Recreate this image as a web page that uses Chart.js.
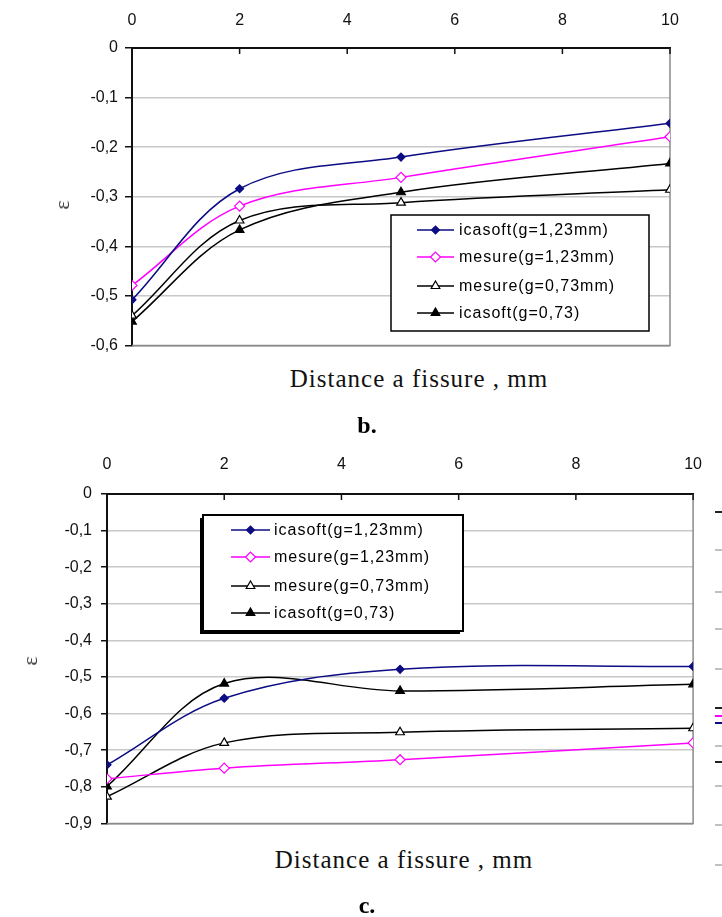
<!DOCTYPE html>
<html>
<head>
<meta charset="utf-8">
<script src="https://cdn.jsdelivr.net/npm/chart.js@4.4.1/dist/chart.umd.min.js"></script>
<style>
  body { margin: 0; background: #fff; width: 722px; height: 917px; position: relative; overflow: hidden; }
  .wrap { position: absolute; left: 0; }
  .xtitle { position: absolute; transform: translate(-50%, -50%); white-space: nowrap;
            font-family: "Liberation Serif", "Times New Roman", serif; font-size: 25px; letter-spacing: 1px; color: #111; }
  .fig { position: absolute; transform: translate(-50%, -50%);
         font-family: "Liberation Serif", "Times New Roman", serif; font-weight: bold; font-size: 24px; color: #000; }
  .ytitle { position: absolute; transform: translate(-50%, -50%) rotate(-90deg);
            font-family: "Liberation Serif", serif; font-size: 22px; color: #333; }
  .stub { position: absolute; left: 715px; width: 7px; height: 2px; background: #c0c0c0; }
</style>
</head>
<body>
<div class="wrap" style="top:0"><canvas id="chartB" width="722" height="362"></canvas></div>
<div class="wrap" style="top:420px"><canvas id="chartC" width="722" height="422"></canvas></div>

<div class="ytitle" style="left:62px; top:205px">ε</div>
<div class="xtitle" style="left:419px; top:379px">Distance a fissure , mm</div>
<div class="fig" style="left:367px; top:425px">b.</div>

<div class="ytitle" style="left:30px; top:661px">ε</div>
<div class="xtitle" style="left:404px; top:860px">Distance a fissure , mm</div>
<div class="fig" style="left:367px; top:905px">c.</div>

<!-- edge of the neighbouring figure, cut off on the right -->
<div class="stub" style="top:511px; background:#222"></div>
<div class="stub" style="top:549px"></div>
<div class="stub" style="top:591px"></div>
<div class="stub" style="top:628px"></div>
<div class="stub" style="top:668px"></div>
<div class="stub" style="top:707px; background:#222"></div>
<div class="stub" style="top:715px; background:#ff00ff"></div>
<div class="stub" style="top:722px; background:#0c0c84"></div>
<div class="stub" style="top:745px"></div>
<div class="stub" style="top:761px; background:#222"></div>
<div class="stub" style="top:785px"></div>
<div class="stub" style="top:824px"></div>
<div class="stub" style="top:864px"></div>

<script>
// distances (mm) where values were taken
const distances = [0, 2, 5, 10];
const seriesLabels = ['icasoft(g=1,23mm)', 'mesure(g=1,23mm)', 'mesure(g=0,73mm)', 'icasoft(g=0,73)'];

// figure b.
const icasoftB123 = [-0.508, -0.284, -0.220, -0.152];
const mesureB123  = [-0.479, -0.319, -0.261, -0.179];
const mesureB073  = [-0.540, -0.348, -0.312, -0.286];
const icasoftB073 = [-0.552, -0.367, -0.291, -0.233];

// figure c.
const icasoftC123 = [-0.740, -0.558, -0.479, -0.471];
const mesureC123  = [-0.778, -0.749, -0.726, -0.680];
const mesureC073  = [-0.827, -0.680, -0.651, -0.640];
const icasoftC073 = [-0.799, -0.518, -0.538, -0.520];

const xTickStep = 2;
const yTickStep = 0.1;

const lineColors = ['#0c0c84', '#ff00ff', '#000000', '#000000'];
const markerFill = ['#0c0c84', '#ffffff', '#ffffff', '#000000'];
const markerShape = ['rectRot', 'rectRot', 'triangle', 'triangle'];
const markerSize = [4, 5, 5, 5];

const tickFont = { family: '"Liberation Sans", Arial, sans-serif', size: 16 };

function fmt(v) {
    if (Math.abs(v) < 1e-9) return '0';
    return v.toFixed(1).replace('.', ',');
}

// right / bottom plot border and inward ticks on the top axis
const frame = {
    id: 'frame',
    beforeDatasetsDraw(chart) {
        const ctx = chart.ctx, a = chart.chartArea;
        ctx.save();
        ctx.strokeStyle = '#8a8a8a';
        ctx.lineWidth = 1.5;
        ctx.beginPath();
        ctx.moveTo(a.right, a.top);
        ctx.lineTo(a.right, a.bottom);
        ctx.lineTo(a.left, a.bottom);
        ctx.stroke();
        ctx.strokeStyle = '#111';
        chart.scales.x.ticks.forEach(t => {
            const px = chart.scales.x.getPixelForValue(t.value);
            ctx.beginPath();
            ctx.moveTo(px, a.top);
            ctx.lineTo(px, a.top + 6);
            ctx.stroke();
        });
        ctx.restore();
    }
};

// legend box drawn inside the plot
const boxLegend = {
    id: 'boxLegend',
    afterDraw(chart, args, o) {
        const ctx = chart.ctx;
        ctx.save();
        if (o.shadow) {
            ctx.fillStyle = '#000';
            ctx.fillRect(o.left - 3, o.top + 3, o.width, o.height);
        }
        ctx.fillStyle = '#fff';
        ctx.fillRect(o.left, o.top, o.width, o.height);
        ctx.strokeStyle = '#000';
        ctx.lineWidth = o.border;
        ctx.strokeRect(o.left, o.top, o.width, o.height);

        ctx.font = '16px "Liberation Sans", Arial, sans-serif';
        ctx.letterSpacing = '1px';
        ctx.textBaseline = 'middle';
        chart.data.datasets.forEach((ds, i) => {
            const y = o.rows[i];
            ctx.strokeStyle = ds.borderColor;
            ctx.lineWidth = 1.5;
            ctx.beginPath();
            ctx.moveTo(o.lineX[0], y);
            ctx.lineTo(o.lineX[1], y);
            ctx.stroke();
            ctx.fillStyle = ds.pointBackgroundColor;
            ctx.lineWidth = 1.2;
            Chart.helpers.drawPoint(ctx, {
                pointStyle: ds.pointStyle, radius: ds.pointRadius, borderWidth: 1.2, rotation: 0
            }, (o.lineX[0] + o.lineX[1]) / 2, y);
            ctx.fillStyle = '#000';
            ctx.fillText(ds.label, o.textX, y + 1);
        });
        ctx.restore();
    }
};

function makeChart(id, series, yMin, dims, legend) {
    const datasets = series.map((vals, i) => ({
        label: seriesLabels[i],
        data: distances.map((d, k) => ({ x: d, y: vals[k] })),
        borderColor: lineColors[i],
        borderWidth: 1.5,
        pointStyle: markerShape[i],
        pointRadius: markerSize[i],
        pointBackgroundColor: markerFill[i],
        pointBorderColor: lineColors[i],
        pointBorderWidth: 1.2,
        tension: 0.35,
        fill: false
    }));

    return new Chart(document.getElementById(id), {
        type: 'line',
        data: { datasets: datasets },
        plugins: [frame, boxLegend],
        options: {
            responsive: false,
            animation: false,
            devicePixelRatio: 1,
            layout: { padding: { left: 0, top: 0, right: dims.right, bottom: 12 } },
            scales: {
                x: {
                    type: 'linear',
                    position: 'top',
                    min: 0, max: 10,
                    ticks: { stepSize: xTickStep, padding: dims.xPad, color: '#111', font: tickFont },
                    grid: { drawOnChartArea: false, drawTicks: false },
                    border: { color: '#111', width: 2 },
                    afterFit: s => { s.height = dims.top; }
                },
                y: {
                    min: yMin, max: 0,
                    ticks: {
                        stepSize: yTickStep, padding: dims.yPad, color: '#111', font: tickFont,
                        callback: v => fmt(v)
                    },
                    grid: {
                        color: c => {
                            if (Math.abs(c.tick.value) < 1e-9) return 'rgba(0,0,0,0)';
                            if (Math.abs(c.tick.value - yMin) < 1e-9) return '#8a8a8a';
                            return '#c8c8c8';
                        },
                        lineWidth: 1.5,
                        tickColor: '#111',
                        tickLength: dims.tickLen,
                        tickWidth: 1.5
                    },
                    border: { color: '#111', width: 2 },
                    afterFit: s => { s.width = dims.left; }
                }
            },
            plugins: {
                legend: { display: false },
                tooltip: { enabled: false },
                boxLegend: legend
            }
        }
    });
}

makeChart('chartB', [icasoftB123, mesureB123, mesureB073, icasoftB073], -0.6,
    { left: 132, top: 48, right: 52, xPad: 18, yPad: 7, tickLen: 7 },
    { left: 391, top: 215, width: 258, height: 116, border: 1.5, shadow: false,
      rows: [230, 257, 286, 313], lineX: [417, 454], textX: 459 });

makeChart('chartC', [icasoftC123, mesureC123, mesureC073, icasoftC073], -0.9,
    { left: 107, top: 74, right: 22, xPad: 20, yPad: 9, tickLen: 6 },
    { left: 203, top: 95, width: 260, height: 116, border: 2, shadow: true,
      rows: [110, 137, 166, 193], lineX: [231, 270], textX: 274 });
</script>
</body>
</html>
